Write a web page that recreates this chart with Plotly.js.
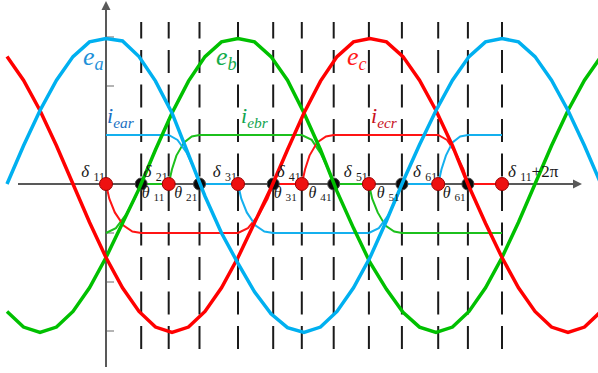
<!DOCTYPE html>
<html>
<head>
<meta charset="utf-8">
<script src="https://cdn.plot.ly/plotly-3.0.1.min.js"></script>
<style>
  html, body { margin: 0; padding: 0; background: #fff; overflow: hidden; }
  #chart { width: 598px; height: 373px; }
</style>
</head>
<body>
<div id="chart"></div>
<script>
// Electrical angle (degrees) at which the phase EMFs are sampled
const angle = [-90, -75, -60, -45, -30, -15, 0, 15, 30, 45, 60, 75, 90, 105, 120, 135, 150, 165, 180,
               195, 210, 225, 240, 255, 270, 285, 300, 315, 330, 345, 360, 375, 390, 405, 420, 435, 450];

// Phase EMFs e_a, e_b, e_c
const eA = [0, 0.78, 1.5, 2.12, 2.6, 2.9, 2.97, 2.92, 2.6, 2.1, 1.45, 0.58, -0.25, -1.0, -1.62, -2.2, -2.65, -2.93, -3.03,
            -2.92, -2.6, -2.12, -1.5, -0.75, 0.05, 0.8, 1.5, 2.12, 2.6, 2.9, 2.97, 2.9, 2.6, 2.12, 1.5, 0.78, 0];
const eB = [-2.6, -2.92, -3.03, -2.92, -2.6, -2.12, -1.5, -0.8, -0.1, 0.7, 1.45, 2.1, 2.6, 2.9, 2.97, 2.9, 2.6, 2.12, 1.45,
            0.7, -0.15, -0.9, -1.6, -2.15, -2.62, -2.92, -3.03, -2.92, -2.6, -2.12, -1.5, -0.78, 0, 0.78, 1.5, 2.12, 2.6];
const eC = [2.6, 2.12, 1.5, 0.78, 0, -0.78, -1.5, -2.12, -2.6, -2.92, -3.03, -2.92, -2.6, -2.12, -1.5, -0.8, -0.08, 0.7, 1.45,
            2.1, 2.6, 2.9, 2.97, 2.9, 2.6, 2.12, 1.5, 0.78, -0.05, -0.8, -1.5, -2.12, -2.6, -2.92, -3.03, -2.92, -2.6];

// Commutation start (delta) and end (theta) angles
const deltaAngles = [0, 57, 120, 178, 239, 302, 360];
const thetaAngles = [32, 85, 152, 207, 269, 329];
const deltaNames = ['11', '21', '31', '41', '51', '61'];
const thetaNames = ['11', '21', '31', '41', '51', '61'];

// Phase currents i_ear, i_ebr, i_ecr
const iaAngle = [0, 57, 65, 73, 80, 85, 120, 123, 128, 136, 144, 152, 239, 248, 257, 264, 269, 302, 305, 309, 315, 322, 329, 360];
const iaValue = [1, 1, 0.9, 0.65, 0.32, 0, 0, -0.3, -0.58, -0.85, -0.97, -1, -1, -0.9, -0.63, -0.3, 0, 0, 0.3, 0.58, 0.85, 0.97, 1, 1];
const ibAngle = [0, 9, 18, 26, 32, 57, 60, 64, 71, 78, 85, 178, 187, 195, 202, 207, 239, 242, 247, 254, 262, 269, 360];
const ibValue = [-1, -0.9, -0.63, -0.3, 0, 0, 0.3, 0.58, 0.85, 0.97, 1, 1, 0.9, 0.63, 0.3, 0, 0, -0.3, -0.58, -0.85, -0.97, -1, -1];
const icAngle = [0, 3, 8, 16, 24, 32, 120, 129, 139, 147, 152, 178, 181, 185, 192, 200, 207, 302, 310, 318, 325, 329, 360];
const icValue = [0, -0.3, -0.58, -0.85, -0.97, -1, -1, -0.9, -0.63, -0.3, 0, 0, 0.3, 0.58, 0.85, 0.97, 1, 1, 0.9, 0.63, 0.3, 0, 0];

// ---- drawing ----
const W = 598, H = 373;
const X0PX = 106, PX_PER_DEG = 1.1;     // y axis sits at 0 deg
const Y0PX = 184, PX_PER_UNIT = 49;     // one tick step
const degAt = px => (px - X0PX) / PX_PER_DEG;
const valAt = py => (Y0PX - py) / PX_PER_UNIT;

const BLUE = '#00b0f0', GREEN = '#00c000', RED = '#ff0000';
const SERIF = 'Liberation Serif, Times New Roman, serif';

const traces = [];

// vertical dashed guides at every commutation angle
const guideAngles = deltaAngles.slice(1).concat(thetaAngles);
guideAngles.forEach(a => {
  traces.push({
    x: [a, a], y: [valAt(349), valAt(22)], mode: 'lines',
    line: { color: '#1a1a1a', width: 2, dash: '23px,11.5px' }, hoverinfo: 'skip'
  });
});

// currents
traces.push({ x: ibAngle, y: ibValue, mode: 'lines', line: { color: '#1cc01c', width: 2 } });
traces.push({ x: icAngle, y: icValue, mode: 'lines', line: { color: '#ff1414', width: 2 } });
traces.push({ x: iaAngle, y: iaValue, mode: 'lines', line: { color: '#14b0ee', width: 2 } });

// theta points
traces.push({
  x: thetaAngles, y: thetaAngles.map(() => 0), mode: 'markers',
  marker: { size: 12, color: '#0a0a0a', line: { color: '#444', width: 1 } }
});

// EMFs
traces.push({ x: angle, y: eB, mode: 'lines', line: { color: GREEN, width: 3.5 } });
traces.push({ x: angle, y: eC, mode: 'lines', line: { color: RED, width: 3.5 } });
traces.push({ x: angle, y: eA, mode: 'lines', line: { color: BLUE, width: 3.5 } });

// delta labels (above axis, left of point)
const dLabelY = valAt(172.75);
traces.push({
  x: deltaAngles.slice(0, 6).map(a => a - 1), y: deltaAngles.slice(0, 6).map(() => dLabelY),
  mode: 'text', text: deltaNames.map(n => '<i>δ</i> <sub>' + n + '</sub>'),
  textposition: 'middle left', textfont: { family: SERIF, size: 17, color: '#1a1a1a' }
});
traces.push({
  x: [degAt(508)], y: [dLabelY], mode: 'text', text: ['<i>δ</i> <sub>11</sub>+2π'],
  textposition: 'middle right', textfont: { family: SERIF, size: 17, color: '#1a1a1a' }
});

// theta labels (below axis)
const rightSide = [true, false, true, false, false, false];
const tLabelY = valAt(194);
traces.push({
  x: thetaAngles.map((a, k) => rightSide[k] ? a + 0.5 : a - 2),
  y: thetaAngles.map(() => tLabelY),
  mode: 'text', text: thetaNames.map(n => '<i>θ</i> <sub>' + n + '</sub>'),
  textposition: rightSide.map(r => r ? 'middle right' : 'middle left'),
  textfont: { family: SERIF, size: 16, color: '#1a1a1a' }
});

// curve names
const eY = valAt(58.5);
traces.push({
  x: [degAt(83), degAt(216), degAt(347)], y: [eY, eY, eY], mode: 'text',
  text: ['<i>e<sub>a</sub></i>', '<i>e<sub>b</sub></i>', '<i>e<sub>c</sub></i>'],
  textposition: 'middle right',
  textfont: { family: SERIF, size: 26, color: ['#1e90d8', '#14ac4a', '#ff1a1a'] }
});
const iY = valAt(117.5);
traces.push({
  x: [degAt(107), degAt(241), degAt(371)], y: [iY, iY, iY], mode: 'text',
  text: ['<i>i<sub>ear</sub></i>', '<i>i<sub>ebr</sub></i>', '<i>i<sub>ecr</sub></i>'],
  textposition: 'middle right',
  textfont: { family: SERIF, size: 22, color: ['#1a70c2', '#12a450', '#c8101e'] }
});

// delta points
traces.push({
  x: deltaAngles, y: deltaAngles.map(() => 0), mode: 'markers',
  marker: { size: 13, color: '#ee1111', line: { color: '#9a0000', width: 1 } }
});

const layout = {
  width: W, height: H, autosize: false,
  margin: { l: 0, r: 0, t: 0, b: 0, pad: 0 },
  paper_bgcolor: '#ffffff', plot_bgcolor: '#ffffff',
  showlegend: false, hovermode: false,
  xaxis: { range: [degAt(0), degAt(W)], visible: false, fixedrange: true },
  yaxis: {
    range: [valAt(H), valAt(0)], fixedrange: true,
    showgrid: false, zeroline: false, showline: false, showticklabels: false,
    ticks: 'inside', ticklen: 7, tickwidth: 1.5, tickcolor: '#b4b4b4',
    tickvals: [-3, -2, -1, 1, 2, 3], anchor: 'free', position: X0PX / W, layer: 'below traces'
  },
  shapes: [
    { type: 'line', xref: 'x', yref: 'y', x0: degAt(18), x1: degAt(573), y0: 0, y1: 0,
      line: { color: '#595959', width: 2 }, layer: 'below' },
    { type: 'line', xref: 'x', yref: 'y', x0: 0, x1: 0, y0: valAt(367), y1: valAt(8),
      line: { color: '#595959', width: 2 }, layer: 'below' }
  ],
  annotations: [
    { x: degAt(582), y: 0, xref: 'x', yref: 'y', ax: -12, ay: 0, text: '', showarrow: true,
      arrowhead: 2, arrowsize: 0.9, arrowwidth: 2, arrowcolor: '#595959' },
    { x: 0, y: valAt(1), xref: 'x', yref: 'y', ax: 0, ay: 12, text: '', showarrow: true,
      arrowhead: 2, arrowsize: 0.9, arrowwidth: 2, arrowcolor: '#595959' }
  ]
};

Plotly.newPlot('chart', traces, layout, { staticPlot: true, displayModeBar: false });
</script>
</body>
</html>
